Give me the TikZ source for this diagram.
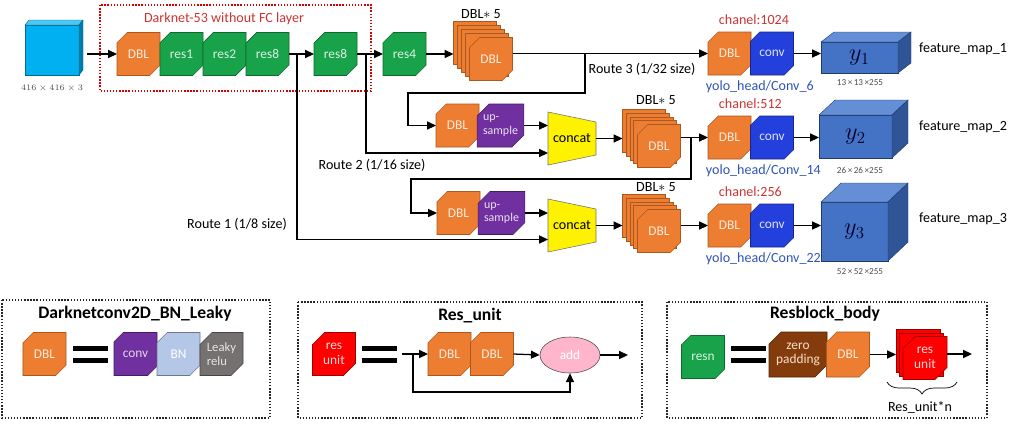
\documentclass[tikz,border=0pt]{standalone}
\usepackage{fontspec}
\setmainfont{Carlito}
\usepackage{xcolor}
\definecolor{dblor}{RGB}{237,125,49}
\definecolor{dblline}{RGB}{170,88,30}
\definecolor{resgr}{RGB}{24,163,74}
\definecolor{resline}{RGB}{14,105,48}
\definecolor{upsp}{RGB}{112,48,160}
\definecolor{convbl}{RGB}{36,64,220}
\definecolor{cubebl}{RGB}{68,114,196}
\definecolor{cubetop}{RGB}{100,142,214}
\definecolor{cubeside}{RGB}{47,85,151}
\definecolor{incyan}{RGB}{0,176,240}
\definecolor{bnblue}{RGB}{180,199,231}
\definecolor{relugray}{RGB}{118,113,113}
\definecolor{zpbrown}{RGB}{132,60,12}
\definecolor{addpink}{RGB}{255,182,205}
\definecolor{txtred}{RGB}{204,51,51}
\definecolor{txtblue}{RGB}{47,84,180}
\usepackage{tikz}
\usetikzlibrary{positioning,arrows.meta,calc,shapes.misc,shapes.geometric,backgrounds,decorations.pathreplacing}

\begin{document}
\begin{tikzpicture}[x=0.25mm,y=-0.25mm,
    blk/.style={chamfered rectangle,chamfered rectangle corners={north west,south east},
      chamfered rectangle xsep=1.5mm,chamfered rectangle ysep=1.5mm,
      minimum width=10.75mm,minimum height=10.75mm,inner sep=0pt,outer sep=0pt,
      line width=0.4pt,align=center,font=\fontsize{9.5}{10.5}\selectfont},
    dbl/.style={blk,fill=dblor,draw=dblline,text=dblor!15},
    res/.style={blk,fill=resgr,draw=resline,text=resgr!15},
    upsmp/.style={blk,fill=upsp,draw=upsp!60!black,text=upsp!15,align=left,font=\fontsize{8.5}{9.5}\selectfont},
    conv/.style={blk,fill=convbl,draw=convbl!60!black,text=convbl!15},
    pconv/.style={blk,fill=upsp,draw=upsp!60!black,text=upsp!20},
    bn/.style={blk,fill=bnblue,draw=bnblue!60!black,text=white},
    relu/.style={blk,fill=relugray,draw=relugray!60!black,text=black!10,align=left,font=\fontsize{9}{10}\selectfont},
    runit/.style={blk,fill=red,draw=red!60!black,text=red!15},
    zpad/.style={blk,fill=zpbrown,draw=zpbrown!60!black,text=dblor!25,minimum width=14.5mm,minimum height=11.25mm},
    addn/.style={ellipse,minimum width=15mm,minimum height=9mm,inner sep=0pt,fill=addpink,draw=black!70,text=white,font=\fontsize{9.5}{10.5}\selectfont},
    catnode/.style={minimum width=12mm,minimum height=13.25mm,inner sep=0pt,outer sep=0pt,font=\fontsize{10}{12}\selectfont},
    catfill/.style={fill=yellow,draw=black!55,line width=0.4pt},
    incube/.style={fill=incyan,draw=incyan!60!black,line width=0.3pt,minimum width=13.5mm,minimum height=12.5mm,inner sep=0pt,outer sep=0pt},
    ycube/.style={fill=cubebl,draw=cubeside!70!black,line width=0.3pt,inner sep=0pt,outer sep=0pt,text=black!85!blue,font=\fontsize{18}{20}\selectfont},
    arr/.style={-{Triangle[length=2.2mm,width=2mm]},line width=0.9pt},
    lbl/.style={font=\fontsize{10}{12}\selectfont},
    legt/.style={font=\bfseries\fontsize{12.5}{14}\selectfont},
    dimtxt/.style={font=\fontsize{6}{7}\selectfont,text=black!70},
    legbox/.style={draw=black!85,line width=1.2pt,dash pattern=on 1pt off 1.2pt},
    darknet/.style={draw=red!85!black,line width=1.2pt,dash pattern=on 1pt off 1.2pt},
    brc/.style={decorate,decoration={brace,mirror,amplitude=3mm},line width=0.5pt}]
  \useasboundingbox (0,0) rectangle (1024,423);

  % input image
  \node[incube] (IN) at (52,50) {};
  \fill[incyan!70!white,draw=incyan!60!black,line width=0.3pt] (IN.north west) -- ++(4,-5) -- ($(IN.north east)+(4,-5)$) -- (IN.north east) -- cycle;
  \fill[incyan!70!black,draw=incyan!60!black,line width=0.3pt] (IN.north east) -- ++(4,-5) -- ($(IN.south east)+(4,-5)$) -- (IN.south east) -- cycle;
  \node[dimtxt] at (52,88) {$416\times416\times3$};

  % darknet-53 backbone
  \draw[darknet] (100,5) rectangle (371,91);
  \node[lbl,text=txtred] at (224,19) {Darknet-53 without FC layer};
  \node[dbl] (D0) at (138.5,54) {DBL};
  \foreach \n/\x/\t in {R1/181.5/res1,R2/224.5/res2,R8a/267.5/res8,R8b/335.5/res8,R4/404.5/res4}
    \node[res] (\n) at (\x,54) {\t};

  % DBL*5 stacks
  \foreach \s/\x/\y/\dd in {S1/491/59/4,S2/659/146/3.75,S3/659/231/3.75} {
    \foreach \k in {4,3,2,1}
      \node[dbl] (\s-\k) at ({\x-\dd*\k},{\y-\dd*\k}) {};
    \node[dbl] (\s) at (\x,\y) {DBL};
  }
  \node[lbl] at (481,14) {DBL$\ast$ 5};
  \node[lbl] at (656,100) {DBL$\ast$ 5};
  \node[lbl] at (656,187) {DBL$\ast$ 5};

  % upsampling branches
  \node[dbl] (D2) at (457.5,125.5) {DBL};
  \node[upsmp] (U2) at (500.5,125.5) {up-\\sample};
  \node[dbl] (D3) at (458.5,213) {DBL};
  \node[upsmp] (U3) at (501.5,213) {up-\\sample};
  \foreach \c/\y in {C2/138.5,C3/225.5}
    \node[catnode] (\c) at (572,\y) {concat};
  \begin{scope}[on background layer]
    \foreach \c in {C2,C3}
      \draw[catfill] (\c.north west) -- ($(\c.north east)+(0,10)$) -- ($(\c.south east)+(0,-10)$) -- (\c.south west) -- cycle;
  \end{scope}

  % output cubes
  \foreach \i/\cx/\cy/\w/\h/\dx/\dy/\sz/\ly/\fy in {1/859.5/57.5/77/31/13/10/13/83/49,2/855.5/136.5/73/43/16/15/26/170/127,3/854.5/231.5/67/59/20/19/52/272/219} {
    \node[ycube,minimum width=\w*0.25mm,minimum height=\h*0.25mm] (Y\i) at (\cx,\cy) {$y_{\i}$};
    \fill[cubetop,draw=cubeside!70!black,line width=0.3pt] (Y\i.north west) -- ++(\dx,-\dy) -- ($(Y\i.north east)+(\dx,-\dy)$) -- (Y\i.north east) -- cycle;
    \fill[cubeside,draw=cubeside!70!black,line width=0.3pt] (Y\i.north east) -- ++(\dx,-\dy) -- ($(Y\i.south east)+(\dx,-\dy)$) -- (Y\i.south east) -- cycle;
    \node[dimtxt,font=\fontsize{6.5}{7}\selectfont] at (860,\ly) {\sz\,×\,\sz\,×255};
    \node[lbl] at (963,\fy) {feature\_map\_\i};
  }

  % yolo heads
  \foreach \i/\y/\ch/\cv in {1/53.5/1024/6,2/137.5/512/14,3/225.5/256/22} {
    \node[dbl] (H\i) at (729.5,\y) {DBL};
    \node[conv] (V\i) at (772,\y) {conv};
    \node[lbl,text=txtred,anchor=west] at (714,{\y-33.5}) {chanel:\ch};
    \node[lbl,text=txtblue,anchor=west] at (701,{\y+33.5}) {yolo\_head/Conv\_\cv};
    \draw[arr] (V\i.east) -- (V\i.east -| Y\i.west);
  }

  % connections
  \coordinate (J1) at (297,54);
  \coordinate (J2) at (366,54);
  \coordinate (J3) at (585,53.5);
  \coordinate (J4) at (691,137.5);
  \draw[arr] ([xshift=2mm]IN.east |- D0.west) -- (D0.west);
  \draw[arr] (R8a.east) -- (R8b.west);
  \draw[arr] (R8b.east) -- (R4.west);
  \draw[arr] (R4.east) -- (R4.east -| S1-4.west);
  \draw[arr] (S1.east |- H1.west) -- (H1.west);
  \draw[arr] (J3) -- ++(0,39.5) -| ([xshift=-7mm]D2.west) -- (D2.west);
  \draw[arr] (J2) |- ($(C2.west)+(0,14.5)$);
  \draw[arr] (U2.east) -- (U2.east -| C2.west);
  \draw[arr] (C2.east) -- (C2.east -| S2-4.west);
  \draw[arr] (S2.east |- H2.west) -- (H2.west);
  \draw[arr] (J4) -- ++(0,41.5) -| ([xshift=-6.5mm]D3.west) -- (D3.west);
  \draw[arr] (J1) |- ($(C3.west)+(0,14)$);
  \draw[arr] (U3.east) -- (U3.east -| C3.west);
  \draw[arr] (C3.east) -- (C3.east -| S3-4.west);
  \draw[arr] (S3.east |- H3.west) -- (H3.west);
  \node[lbl] at (642,69) {Route 3 (1/32 size)};
  \node[lbl] at (372,165) {Route 2 (1/16 size)};
  \node[lbl] at (237,224) {Route 1 (1/8 size)};

  % legend: DBL
  \draw[legbox] (2,300) rectangle (270,418);
  \node[legt] at (135,314) {Darknetconv2D\_BN\_Leaky};
  \node[dbl] (LD) at (44.5,354) {DBL};
  \node[pconv] (Lc) at (135.5,354) {conv};
  \node[bn] (Lb) at (178.5,354) {BN};
  \node[relu] (Lr) at (221.5,354) {Leaky\\relu};
  \foreach \x in {73,362,731} {
    \fill (\x,346) rectangle ++(35,5);
    \fill (\x,358) rectangle ++(35,5);
  }

  % legend: res unit
  \draw[legbox] (298,302) rectangle (642,418);
  \node[legt] at (470,316) {Res\_unit};
  \node[runit] (RU) at (334,354) {res\\unit};
  \coordinate (rin) at (402,354);
  \coordinate (rsk) at (413,354);
  \node[dbl] (Ua) at (449.5,354) {DBL};
  \node[dbl] (Ub) at (492,354) {DBL};
  \node[addn] (ADD) at (570,355) {add};
  \coordinate (rout) at (628,355);
  \draw[arr] (rin) -- (Ua.west);
  \draw[arr] (rsk) -- ++(0,38) -| (ADD.south);
  \draw[arr] (Ub.east) -- (ADD.west);
  \draw[arr] (ADD.east) -- (rout);

  % legend: resblock body
  \draw[legbox] (667,302) rectangle (987,418);
  \node[legt] at (825,314) {Resblock\_body};
  \node[res] (RN) at (703,357) {resn};
  \node[zpad] (ZP) at (798,354.5) {zero\\padding};
  \node[dbl,minimum height=11.25mm] (ZD) at (848,354.5) {DBL};
  \foreach \k in {2,1}
    \node[runit,minimum width=11mm] (RS-\k) at ({925-3.5*\k},{358-3.5*\k}) {};
  \node[runit,minimum width=11mm] (RS) at (925,358) {res\\unit};
  \coordinate (rbout) at (972,354);
  \draw[arr] (ZD.east) -- (ZD.east -| RS-2.west);
  \draw[arr] (RS.east |- rbout) -- (rbout);
  \draw[brc] (887,382) -- (957,382);
  \node[lbl] at (920,407) {Res\_unit*n};
\end{tikzpicture}
\end{document}
